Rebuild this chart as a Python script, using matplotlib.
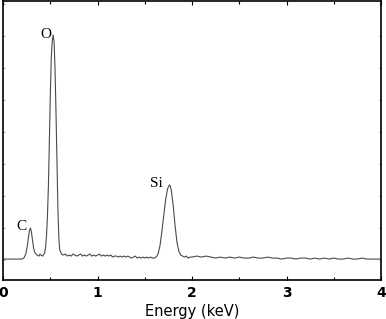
import numpy as np
import matplotlib.pyplot as plt
from matplotlib.ticker import MultipleLocator

# EDS spectrum (counts in arbitrary units)
energy = [0.00, 0.10, 0.20, 0.22, 0.24, 0.26, 0.27, 0.28, 0.29, 0.30, 0.31, 0.32, 0.33,
          0.34, 0.36, 0.38, 0.39, 0.40, 0.42, 0.43, 0.44, 0.45, 0.46, 0.47, 0.48,
          0.49, 0.50, 0.51, 0.52, 0.53, 0.54, 0.55, 0.56, 0.57, 0.58, 0.59, 0.60,
          0.62, 0.64, 0.66, 0.68, 0.70, 0.72, 0.74, 0.76, 0.78, 0.80, 0.82, 0.84,
          0.86, 0.88, 0.90, 0.92, 0.94, 0.96, 0.98, 1.00, 1.02, 1.04, 1.06, 1.08,
          1.10, 1.12, 1.14, 1.16, 1.18, 1.20, 1.22, 1.24, 1.26, 1.28, 1.30, 1.32,
          1.34, 1.36, 1.38, 1.40, 1.42, 1.44, 1.46, 1.48, 1.50, 1.52, 1.54, 1.56,
          1.58, 1.60, 1.62, 1.64, 1.66, 1.68, 1.70, 1.72, 1.74, 1.76, 1.77, 1.78,
          1.80, 1.82, 1.84, 1.86, 1.88, 1.90, 1.92, 1.94, 1.96, 1.98, 2.00, 2.05,
          2.10, 2.15, 2.20, 2.25, 2.30, 2.35, 2.40, 2.45, 2.50, 2.55, 2.60, 2.65,
          2.70, 2.75, 2.80, 2.85, 2.90, 2.95, 3.00, 3.05, 3.10, 3.15, 3.20, 3.25,
          3.30, 3.35, 3.40, 3.45, 3.50, 3.55, 3.60, 3.65, 3.70, 3.75, 3.80, 3.85,
          3.90, 3.95, 4.00]
counts = [21, 21, 21, 22, 26, 36, 44, 50, 52, 48, 41, 34, 29,
          27, 25, 24, 26, 25, 24, 26, 27, 33, 45, 65, 95,
          140, 185, 222, 239, 245, 238, 210, 168, 118, 72, 42, 30,
          26, 25, 26, 24, 25, 24, 26, 25, 24, 25, 26, 24,
          25, 24, 25, 26, 24, 25, 24, 25, 26, 24, 25, 24,
          25, 24, 25, 23, 24, 24, 23, 24, 23, 24, 23, 24,
          23, 22, 23, 24, 22, 23, 22, 23, 22, 23, 22, 23,
          22, 22, 23, 26, 34, 48, 64, 80, 91, 95, 94, 90,
          75, 55, 38, 29, 25, 24, 23, 24, 22, 23, 23, 24,
          23, 24, 23, 22, 23, 22, 23, 22, 23, 22, 22, 23,
          22, 22, 23, 22, 22, 21, 22, 22, 21, 22, 22, 21,
          22, 21, 22, 21, 22, 21, 21, 22, 21, 21, 22, 21,
          21, 21, 21]

peak_labels = ["C", "O", "Si"]
peak_pos = [(0.14, 50), (0.39, 242), (1.56, 93)]

fig = plt.figure(figsize=[3.86, 3.19], dpi=100)
ax = fig.add_axes([0.008, 0.122, 0.979, 0.875])

ax.plot(energy, counts, color="#4a4a4a", lw=0.8)

for lab, (x, y) in zip(peak_labels, peak_pos):
    ax.text(x, y, lab, family="Liberation Serif", fontsize=11, color="black")

ax.set_xlim(0, 4)
ax.set_ylim(0, 279)
ax.xaxis.set_major_locator(MultipleLocator(1))
ax.xaxis.set_minor_locator(MultipleLocator(0.5))
ax.set_yticks(np.arange(20, 279, 32))
ax.set_yticklabels([])
ax.tick_params(axis="x", direction="in", top=True, length=3, width=0.8,
               labelsize=10, pad=4)
ax.tick_params(axis="x", which="minor", direction="in", top=True, length=2, width=0.8)
ax.tick_params(axis="y", direction="in", right=True, length=1.5, width=0.6,
               color="#888888")
for lbl in ax.get_xticklabels():
    lbl.set_fontweight("bold")
for s in ax.spines.values():
    s.set_linewidth(1.2)

ax.set_xlabel("Energy (keV)", fontsize=10.5, labelpad=3)

fig.savefig("out.png", dpi=100)
